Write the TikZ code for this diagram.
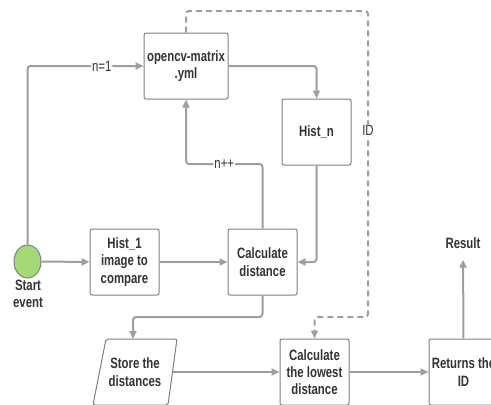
\documentclass[tikz,border=0pt]{standalone}
\usepackage{fontspec}
\setmainfont{Liberation Sans}[FakeStretch=0.76]
\usetikzlibrary{arrows.meta,shapes.geometric}
\definecolor{linegray}{HTML}{9E9E9E}
\definecolor{boxgray}{HTML}{7F7F7F}
\definecolor{txt}{HTML}{333333}
\definecolor{startgreen}{HTML}{A3D977}
\tikzset{
  box/.style={draw=boxgray, line width=1pt, rounded corners=2pt, minimum width=69pt,
    minimum height=66pt, align=center, text=txt, inner sep=2pt,
    font=\bfseries\fontsize{15}{17.3}\selectfont},
  plain/.style={align=center, text=txt, inner sep=0pt, font=\bfseries\fontsize{15}{17.3}\selectfont},
  conn/.style={draw=linegray, line width=2pt, rounded corners=3pt,
    -{Triangle[length=8pt,width=7pt]}},
  dconn/.style={conn, dash pattern=on 6pt off 4pt},
  lbl/.style={fill=white, text=txt, inner sep=1pt, font=\fontsize{15}{17}\selectfont}
}
\begin{document}
\begin{tikzpicture}[x=1pt,y=-1pt]
\useasboundingbox (0,0) rectangle (491,405);
\clip (0,0) rectangle (491,405);
% nodes
\node[box, minimum width=84pt] (opencv) at (186,66) {opencv-matrix\\.yml};
\node[box] (histn) at (316.5,132) {Hist\_n};
\node[ellipse, draw=boxgray, line width=1pt, fill=startgreen, minimum width=27pt, minimum height=33pt, inner sep=0pt] (start) at (27.5,261.5) {};
\node[plain] (startlbl) at (28,294) {Start\\event};
\node[box] (hist1) at (124.5,262) {Hist\_1\\image to\\compare};
\node[box] (calc) at (262.5,262) {Calculate\\distance};
\draw[draw=boxgray, line width=1pt, rounded corners=2pt] (106,339) -- (177,339) -- (168,405) -- (93,405) -- cycle;
\node[plain] (store) at (135,372) {Store the\\distances};
\coordinate (storetop) at (133,339);
\coordinate (storeright) at (172.5,372);
\node[box] (lowest) at (314.5,372) {Calculate\\the lowest\\distance};
\node[box] (returns) at (463.5,372) {Returns the\\ID};
\node[plain] (result) at (463,243) {Result};
% helper coordinates
\coordinate (loopcorner) at (262.5,164);
\coordinate (storecorner) at (262.5,317);
\coordinate (d1) at (186,11);
\coordinate (d2) at (368,11);
\coordinate (d3) at (368,317);
\coordinate (d4) at (314.5,317);
% connectors
\draw[conn] (start.north) |- node[lbl, pos=0.82] {n=1} (opencv.west);
\draw[conn] (start.east) -- (hist1.west);
\draw[conn] (hist1.east) -- (calc.west);
\draw[conn] (opencv.east) -| (histn.north);
\draw[conn] (histn.south) |- (calc.east);
\draw[conn] (calc.north) -- (loopcorner) -| node[lbl, pos=0.25] {n++} (opencv.south);
\draw[conn] (calc.south) -- (storecorner) -| (storetop);
\draw[conn] (storeright) -- (lowest.west);
\draw[conn] (lowest.east) -- (returns.west);
\draw[conn, shorten >=11pt] (returns.north) -- (result.south);
\draw[dconn] (opencv.north) -- (d1) -- (d2) -- node[lbl, pos=0.39] {ID} (d3) -- (d4) -- (lowest.north);
\end{tikzpicture}
\end{document}
